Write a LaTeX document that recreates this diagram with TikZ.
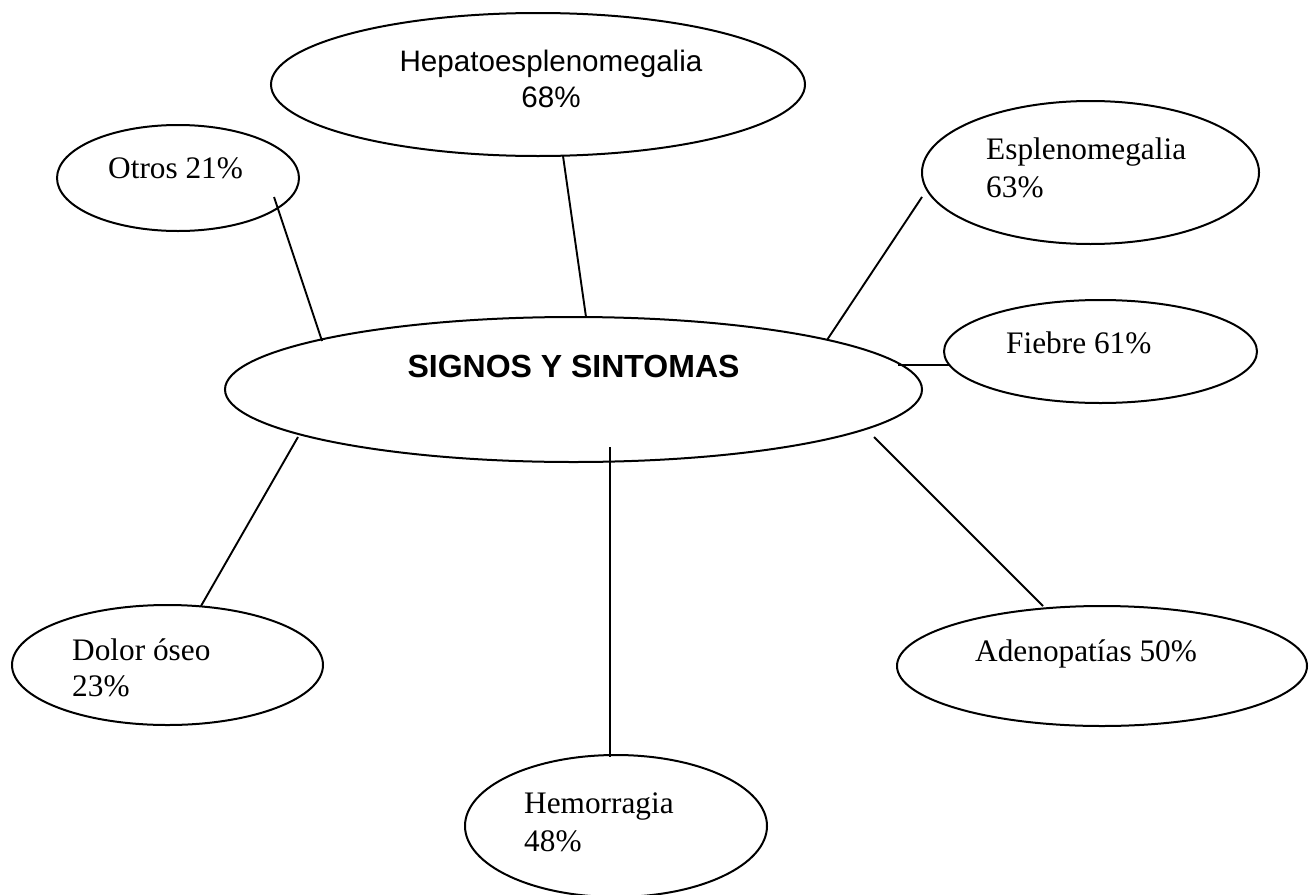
\documentclass[tikz,border=0pt]{standalone}
\usepackage{fontspec}
\setmainfont{Liberation Serif}
\newfontfamily\arialfont{Liberation Sans}
\usetikzlibrary{shapes.geometric}

\begin{document}
\begin{tikzpicture}[x=1pt,y=-1pt,
  bubble/.style={draw, line width=2pt, ellipse, inner sep=0pt, outer sep=0pt},
  link/.style={line width=1.9pt},
  lbl/.style={inner sep=0pt, anchor=base west, align=left,
              font=\fontsize{31.3}{37}\selectfont},
]
\useasboundingbox (0,0) rectangle (1316,894);
\clip (0,0) rectangle (1316,894);

% ellipses
\node[bubble, minimum width=534, minimum height=143] (hep) at (538,84.5) {};
\node[bubble, minimum width=242, minimum height=106] (oth) at (178,178) {};
\node[bubble, minimum width=337, minimum height=143] (esp) at (1090.5,172.5) {};
\node[bubble, minimum width=313, minimum height=103] (fie) at (1100.5,351.5) {};
\node[bubble, minimum width=697, minimum height=145] (sig) at (573.5,389.5) {};
\node[bubble, minimum width=311, minimum height=120] (dol) at (167.5,665) {};
\node[bubble, minimum width=410, minimum height=120] (ade) at (1102,666) {};
\node[bubble, minimum width=302, minimum height=142] (hem) at (616,826) {};

% labels (multi-line nodes are placed by the baseline of their last line)
\node[inner sep=0pt, anchor=base, align=center,
      font=\arialfont\fontsize{29.6}{36}\selectfont] (hep-t) at (551,107)
      {Hepatoesplenomegalia\\68\%};
\node[inner sep=0pt, anchor=base,
      font=\arialfont\bfseries\fontsize{32}{38}\selectfont] (sig-t) at (573.5,377)
      {SIGNOS Y SINTOMAS};
\node[lbl] (oth-t) at (108,178) {Otros 21\%};
\node[lbl, font=\fontsize{31.3}{38}\selectfont] (esp-t) at (986,197) {Esplenomegalia\\63\%};
\node[lbl] (fie-t) at (1006,353) {Fiebre 61\%};
\node[lbl, font=\fontsize{31.3}{36}\selectfont] (dol-t) at (72,696) {Dolor óseo\\23\%};
\node[lbl, font=\fontsize{31.3}{38}\selectfont] (hem-t) at (524,851) {Hemorragia\\48\%};
\node[lbl] (ade-t) at (975,661) {Adenopatías 50\%};

% connector ends
\coordinate (hep-a) at (563,156);  \coordinate (hep-b) at (586,317);
\coordinate (oth-a) at (274,197);  \coordinate (oth-b) at (322,341);
\coordinate (esp-a) at (922,197);  \coordinate (esp-b) at (827,340);
\coordinate (fie-a) at (950,365);  \coordinate (fie-b) at (898,365);
\coordinate (dol-a) at (298,437);  \coordinate (dol-b) at (201,606);
\coordinate (hem-a) at (610,447);  \coordinate (hem-b) at (610,757);
\coordinate (ade-a) at (874,437);  \coordinate (ade-b) at (1043,606);

% connectors
\draw[link] (hep-a) -- (hep-b);
\draw[link] (oth-a) -- (oth-b);
\draw[link] (esp-a) -- (esp-b);
\draw[link] (fie-a) -- (fie-b);
\draw[link] (dol-a) -- (dol-b);
\draw[link] (hem-a) -- (hem-b);
\draw[link] (ade-a) -- (ade-b);
\end{tikzpicture}
\end{document}
